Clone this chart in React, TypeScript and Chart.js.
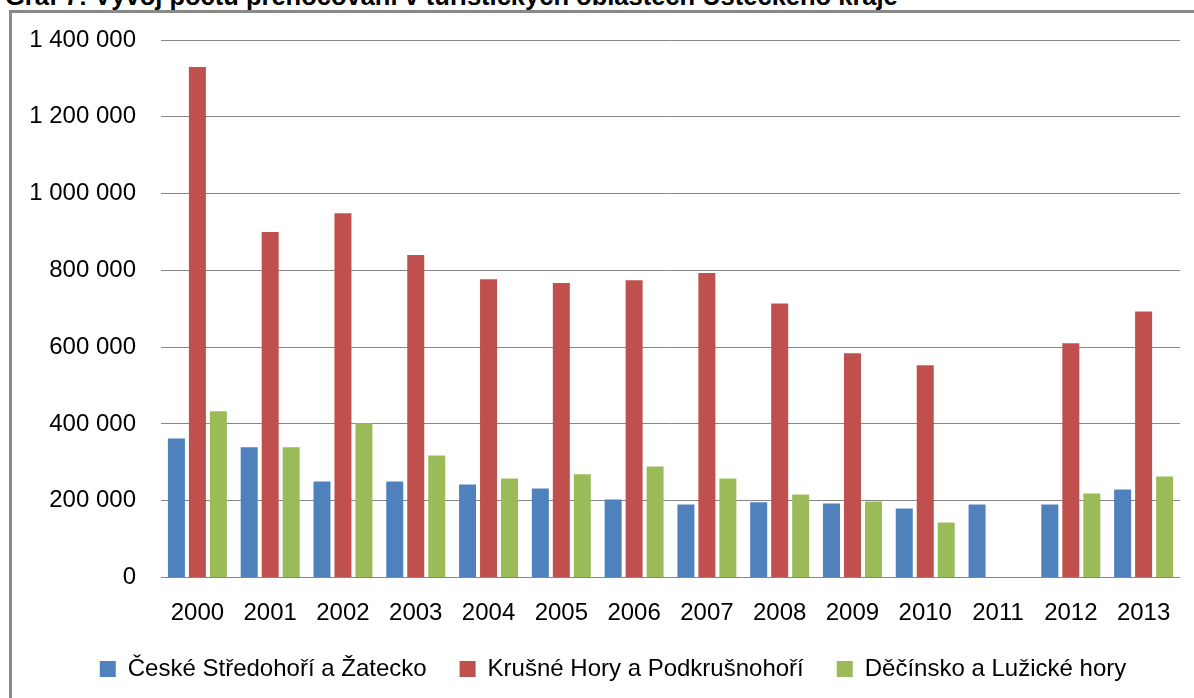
import React, { useEffect, useRef } from "react";
import { Chart, registerables } from "chart.js";

Chart.register(...registerables);

const TITLE = "Graf 7: Vývoj počtu přenocování v turistických oblastech Ústeckého kraje";
const years = ["2000", "2001", "2002", "2003", "2004", "2005", "2006", "2007", "2008", "2009", "2010", "2011", "2012", "2013"];
const seriesNames = ["České Středohoří a Žatecko", "Krušné Hory a Podkrušnohoří", "Děčínsko a Lužické hory"];
const stredohori = [362000, 339000, 250000, 250000, 242000, 232000, 203000, 190000, 196000, 193000, 180000, 190000, 190000, 229000];
const krusneHory = [1330000, 900000, 949000, 840000, 777000, 767000, 774000, 793000, 714000, 584000, 553000, null, 610000, 693000];
const decinsko = [433000, 339000, 402000, 318000, 258000, 269000, 289000, 258000, 216000, 198000, 143000, null, 219000, 263000];
const seriesColors = ["#4F81BD", "#C0504D", "#9BBB59"];
const yTicks = [0, 200000, 400000, 600000, 800000, 1000000, 1200000, 1400000];

const FONT = "'Liberation Sans', Arial, sans-serif";

function fmt(v: number): string {
  return String(v).replace(/\B(?=(\d{3})+(?!\d))/g, " ");
}

const legendShift = {
  id: "legendShift",
  afterLayout(chart: any) {
    if (chart.legend) {
      chart.legend.left += 17;
      chart.legend.right += 17;
    }
  },
};

export default function App() {
  const ref = useRef<HTMLCanvasElement | null>(null);

  useEffect(() => {
    if (!ref.current) return;
    const chart = new Chart(ref.current, {
      type: "bar",
      data: {
        labels: years,
        datasets: [stredohori, krusneHory, decinsko].map((d, i) => ({
          label: seriesNames[i],
          data: d,
          backgroundColor: seriesColors[i],
          borderWidth: 0,
          categoryPercentage: 0.865,
          barPercentage: 0.81,
        })),
      },
      options: {
        animation: false,
        responsive: false,
        maintainAspectRatio: false,
        layout: { padding: { top: 27, right: 14, left: 0, bottom: 7 } },
        plugins: {
          title: { display: false },
          tooltip: { enabled: false },
          legend: {
            position: "bottom",
            align: "center",
            labels: {
              boxWidth: 16,
              boxHeight: 16,
              padding: 33,
              color: "#000",
              font: { family: FONT, size: 24 },
            },
          },
        },
        scales: {
          x: {
            grid: { display: false, drawTicks: false },
            border: { display: false },
            ticks: {
              color: "#000",
              padding: 21,
              maxRotation: 0,
              autoSkip: false,
              font: { family: FONT, size: 24 },
            },
            afterFit: (s: any) => {
              s.height = 46.5;
            },
          },
          y: {
            min: 0,
            max: 1400000,
            afterBuildTicks: (s: any) => {
              s.ticks = yTicks.map((v) => ({ value: v }));
            },
            grid: {
              color: "#868686",
              lineWidth: 1,
              drawTicks: true,
              tickLength: 25,
              tickColor: "rgba(0,0,0,0)",
            },
            border: { display: false },
            ticks: {
              color: "#000",
              padding: 0,
              font: { family: FONT, size: 24 },
              callback: (v: any) => fmt(Number(v)),
            },
            afterFit: (s: any) => {
              s.width = 149;
            },
          },
        },
      },
      plugins: [legendShift],
    });
    return () => chart.destroy();
  }, []);

  return (
    <div
      style={{
        position: "fixed",
        left: 0,
        top: 0,
        width: 1194,
        height: 698,
        overflow: "hidden",
        background: "#fff",
      }}
    >
      <div
        style={{
          position: "absolute",
          left: 5,
          top: -15,
          whiteSpace: "nowrap",
          fontFamily: FONT,
          fontWeight: "bold",
          fontSize: 25.5,
          lineHeight: "22px",
          color: "#000",
        }}
      >
        {TITLE}
      </div>
      <div
        style={{
          position: "absolute",
          left: 9,
          top: 10,
          width: 1400,
          height: 900,
          border: "3px solid #898989",
          boxSizing: "border-box",
          background: "transparent",
        }}
      />
      <canvas
        ref={ref}
        width={1182}
        height={685}
        style={{ position: "absolute", left: 12, top: 13, width: 1182, height: 685 }}
      />
    </div>
  );
}
